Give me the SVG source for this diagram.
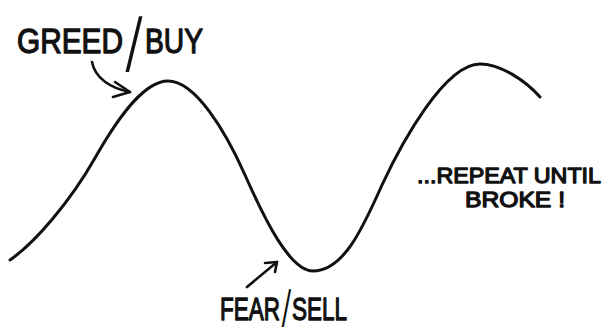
<svg xmlns="http://www.w3.org/2000/svg" width="604" height="327" viewBox="0 0 604 327">
<style>
.curve{fill:none;stroke:#111;stroke-width:3;stroke-linecap:round;stroke-linejoin:round}
.arrow{fill:none;stroke:#111;stroke-width:2.6;stroke-linecap:round;stroke-linejoin:round}
.lbl{font-family:"Liberation Sans","DejaVu Sans",sans-serif;font-weight:normal;fill:#111;stroke:#111;stroke-width:1.3;stroke-linejoin:round}
.sl{font-family:Inter,Lato,"DejaVu Sans",sans-serif;font-weight:300;stroke:none}
</style>
<rect width="604" height="327" fill="#fff"/>
<g id="cycle-curve">
<path class="curve" d="M10,260 C35,242.5 70,202 95,158 C120,114 145,81 168,81 C195,81 225,130 245,175 C265,220 290,271 313,271 C343,271 362,230 382,185 C402,142 445,64 480,64 C500,64 525,80 540,97"/>
</g>
<g id="connectors">
<path class="arrow" d="M92,62 C95,78 110,88 130,92"/>
<path class="arrow" d="M115,82 L130,92 L113,97"/>
<path class="arrow" d="M247,287 L277,262"/>
<path class="arrow" d="M265,263 L277,262 L275,272"/>
</g>
<g id="greed-buy">
<text class="lbl" font-size="35"><tspan x="17" y="53" textLength="106" lengthAdjust="spacingAndGlyphs">GREED</tspan><tspan class="sl" x="124" y="65" font-size="64" textLength="20" lengthAdjust="spacingAndGlyphs">/</tspan><tspan x="145" y="53" textLength="58" lengthAdjust="spacingAndGlyphs">BUY</tspan></text>
</g>
<g id="fear-sell">
<text class="lbl" font-size="32"><tspan x="220" y="320" textLength="60" lengthAdjust="spacingAndGlyphs">FEAR</tspan><tspan class="sl" x="280" y="326" font-size="48" textLength="12" lengthAdjust="spacingAndGlyphs">/</tspan><tspan x="292" y="320" textLength="55" lengthAdjust="spacingAndGlyphs">SELL</tspan></text>
</g>
<g id="repeat-note">
<text class="lbl" font-size="22"><tspan x="417" y="183" textLength="184" lengthAdjust="spacingAndGlyphs">...REPEAT UNTIL</tspan><tspan x="465" y="207" textLength="100" lengthAdjust="spacingAndGlyphs">BROKE !</tspan></text>
</g>
</svg>
